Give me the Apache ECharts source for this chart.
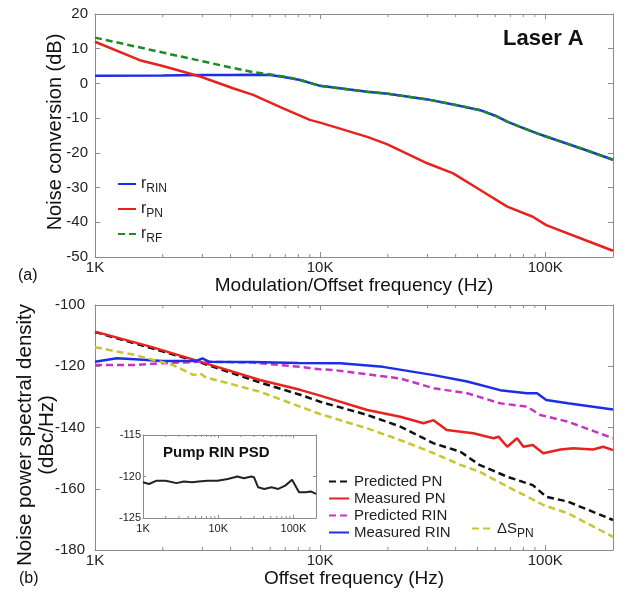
<!DOCTYPE html>
<html>
<head>
<meta charset="utf-8">
<title>Laser A noise</title>
<script src="https://cdn.jsdelivr.net/npm/echarts@6/dist/echarts.min.js"></script>
<style>
  html, body { margin: 0; padding: 0; background: #fff; }
  #chart { width: 628px; height: 593px; }
</style>
</head>
<body>
<div id="chart"></div>
<script>
// panel (a): noise conversion
var rinFreqA = [1000, 2000, 3000, 4000, 5000, 6000, 7000, 8150, 10000, 16200, 20000, 30000, 40000, 51400, 60000, 67800, 77400, 92000, 100000, 150000, 200000];
var rinValA = [2.2, 2.3, 2.4, 2.4, 2.5, 2.4, 1.8, 1.0, -0.7, -2.4, -3.0, -4.6, -6.2, -7.7, -9.3, -11.0, -12.5, -14.4, -15.2, -19.1, -22.0];
var rfFreqA = [1000, 2000, 3000, 4000, 5000, 6000, 7000, 8150, 10000, 16200, 20000, 30000, 40000, 51400, 60000, 67800, 77400, 92000, 100000, 150000, 200000];
var rfValA = [13.2, 8.9, 6.4, 4.6, 3.3, 2.6, 1.9, 1.0, -0.7, -2.4, -3.0, -4.6, -6.2, -7.7, -9.3, -11.0, -12.5, -14.4, -15.2, -19.1, -22.0];
var pnFreqA = [1000, 1580, 2000, 2930, 4100, 5040, 6850, 9000, 10000, 16200, 19800, 29900, 39000, 51400, 67800, 88000, 101000, 150000, 200000];
var pnValA = [12.0, 6.7, 5.0, 2.0, -1.4, -3.3, -7.2, -10.5, -11.3, -15.4, -17.5, -23.0, -25.9, -30.7, -35.5, -38.4, -40.8, -45.1, -48.2];

// panel (b): noise PSD
var predPnFreq = [1000, 1760, 2930, 5400, 8150, 10000, 16200, 22700, 28800, 32000, 42000, 51000, 68000, 83000, 88000, 101000, 126000, 200000];
var predPnVal = [-108.8, -114.0, -118.7, -125.3, -129.3, -131.6, -135.9, -139.7, -143.5, -145.2, -147.9, -152.2, -156.1, -158.2, -158.8, -162.6, -164.2, -170.2];
var measPnFreq = [1000, 1760, 2930, 5400, 8150, 10000, 16200, 22700, 28800, 31900, 36500, 47900, 58900, 62000, 67800, 75000, 80000, 88000, 98000, 117000, 133000, 163000, 181000, 200000];
var measPnVal = [-108.7, -113.6, -118.5, -124.5, -127.7, -129.6, -134.3, -136.5, -138.6, -137.6, -140.8, -141.9, -143.5, -143.0, -146.3, -143.5, -146.3, -145.7, -148.4, -147.2, -146.8, -147.2, -146.3, -147.4];
var predRinFreq = [1000, 1500, 2000, 3000, 5000, 8150, 10000, 11400, 22700, 32000, 45000, 63000, 83000, 95000, 126000, 200000];
var predRinVal = [-119.6, -119.6, -119.0, -118.5, -118.8, -120.2, -121.0, -121.2, -124.0, -127.2, -128.8, -132.1, -133.2, -135.9, -138.1, -143.5];
var measRinFreq = [1000, 1250, 1500, 2000, 2800, 3000, 3200, 5000, 8000, 12300, 19000, 32000, 45000, 63000, 83000, 92000, 101000, 126000, 200000];
var measRinVal = [-118.5, -117.4, -117.7, -118.3, -118.3, -117.4, -118.5, -118.6, -118.9, -119.0, -120.2, -122.9, -125.0, -127.8, -128.8, -128.8, -131.0, -132.1, -134.1];
var dsFreq = [1000, 1500, 2220, 2750, 2930, 3100, 5400, 8150, 10000, 16200, 22700, 32000, 42000, 51000, 68000, 86000, 98000, 126000, 200000];
var dsVal = [-113.8, -116.3, -119.6, -122.9, -122.3, -123.6, -128.3, -133.2, -135.6, -140.3, -144.1, -148.4, -152.2, -154.4, -159.3, -163.1, -165.3, -168.0, -175.7];

// inset: pump RIN PSD
var pumpFreq = [1000, 1200, 1520, 2000, 2800, 3500, 4500, 5500, 7200, 9800, 13400, 16500, 18000, 22000, 27500, 30000, 34000, 41000, 51000, 63000, 78000, 96000, 119000, 145000, 170000, 200000];
var pumpVal = [-120.7, -120.9, -120.5, -120.5, -120.8, -120.6, -120.7, -120.6, -120.5, -120.5, -120.3, -120.1, -120.0, -120.2, -120.0, -120.1, -121.3, -121.5, -121.3, -121.5, -121.1, -120.4, -121.9, -121.9, -121.8, -122.1];

// minor tick positions of the log axes
var minorTicks = [2000, 3000, 4000, 5000, 6000, 7000, 8000, 9000, 20000, 30000, 40000, 50000, 60000, 70000, 80000, 90000];

var FONT = 'Liberation Sans, Arial, sans-serif';
var FRAME = '#8c8c8c';

function pairs(xs, ys) {
    return xs.map(function (x, i) { return [x, ys[i]]; });
}

function kLabel(v) {
    return v >= 1000 ? (v / 1000) + 'K' : String(v);
}

function xAx(grid, pos, showLabel, fs, margin, name) {
    return {
        type: 'log', logBase: 10, gridIndex: grid, position: pos,
        min: 1000, max: 200000,
        name: name || '', nameLocation: 'middle', nameGap: 17,
        nameTextStyle: { fontFamily: FONT, fontSize: 19, color: '#111' },
        axisLine: { show: true, onZero: false, lineStyle: { color: FRAME, width: 1 } },
        axisTick: { show: true, inside: true, length: grid == 2 ? 3 : 5, lineStyle: { color: FRAME } },
        axisLabel: { show: showLabel, formatter: kLabel, showMaxLabel: false, fontFamily: FONT, fontSize: fs, color: '#222', margin: margin },
        splitLine: { show: false }
    };
}

function yAx(grid, pos, min, max, step, showLabel, fs, margin) {
    return {
        type: 'value', gridIndex: grid, position: pos,
        min: min, max: max, interval: step,
        axisLine: { show: true, onZero: false, lineStyle: { color: FRAME, width: 1 } },
        axisTick: { show: true, inside: true, length: grid == 2 ? 3 : 5, lineStyle: { color: FRAME } },
        axisLabel: { show: showLabel, fontFamily: FONT, fontSize: fs, color: '#222', margin: margin },
        splitLine: { show: false }
    };
}

function minorSeries(xi, yi, yMin, yMax, len) {
    return {
        type: 'custom', xAxisIndex: xi, yAxisIndex: yi, silent: true, z: 1,
        data: minorTicks.map(function (f) { return [f, yMin]; }),
        renderItem: function (params, api) {
            var f = api.value(0);
            var b = api.coord([f, yMin]);
            var t = api.coord([f, yMax]);
            var st = { stroke: FRAME, lineWidth: 1 };
            return {
                type: 'group', children: [
                    { type: 'line', shape: { x1: b[0], y1: b[1], x2: b[0], y2: b[1] - len }, style: st },
                    { type: 'line', shape: { x1: t[0], y1: t[1], x2: t[0], y2: t[1] + len }, style: st }
                ]
            };
        }
    };
}

function line(name, xi, yi, xs, ys, color, dashed) {
    return {
        name: name, type: 'line', xAxisIndex: xi, yAxisIndex: yi,
        data: pairs(xs, ys), showSymbol: false, symbol: 'none', smooth: false,
        lineStyle: { color: color, width: 2.5, type: dashed ? [7, 4] : 'solid' },
        itemStyle: { color: color }, z: 3
    };
}

var subRich = {
    m: { fontFamily: FONT, fontSize: 16, color: '#222' },
    s: { fontFamily: FONT, fontSize: 12, color: '#222', padding: [10, 0, 0, 0] }
};

var noDot = { opacity: 0 };

var option = {
    backgroundColor: '#fff',
    animation: false,
    grid: [
        { left: 95, top: 14, width: 518, height: 243 },
        { left: 95, top: 305, width: 518, height: 245 },
        { left: 143, top: 435, width: 173, height: 83, show: true, backgroundColor: '#fff', borderWidth: 0 }
    ],
    xAxis: [
        xAx(0, 'bottom', true, 15, 3, 'Modulation/Offset frequency (Hz)'),
        xAx(0, 'top', false, 15, 3),
        xAx(1, 'bottom', true, 15, 3, 'Offset frequency (Hz)'),
        xAx(1, 'top', false, 15, 3),
        xAx(2, 'bottom', true, 11, 5),
        xAx(2, 'top', false, 11, 5)
    ],
    yAxis: [
        yAx(0, 'left', -50, 20, 10, true, 15, 7),
        yAx(0, 'right', -50, 20, 10, false, 15, 7),
        yAx(1, 'left', -180, -100, 20, true, 15, 10),
        yAx(1, 'right', -180, -100, 20, false, 15, 10),
        yAx(2, 'left', -125, -115, 5, true, 11, 2),
        yAx(2, 'right', -125, -115, 5, false, 11, 2)
    ],
    legend: [
        {
            data: ['r_RIN', 'r_PN', 'r_RF'], orient: 'vertical', left: 112, top: 171,
            itemWidth: 18, itemHeight: 14, itemGap: 6, itemStyle: noDot,
            formatter: function (n) { return '{m|r}{s|' + n.split('_')[1] + '}'; },
            textStyle: { rich: subRich }
        },
        {
            data: ['Predicted PN', 'Measured PN', 'Predicted RIN', 'Measured RIN'], orient: 'vertical', left: 323, top: 469,
            itemWidth: 20, itemHeight: 14, itemGap: 2, itemStyle: noDot,
            textStyle: { fontFamily: FONT, fontSize: 15, color: '#222' }
        },
        {
            data: ['dS_PN'], orient: 'vertical', left: 466, top: 516,
            itemWidth: 20, itemHeight: 14, itemStyle: noDot,
            formatter: function () { return '{m|\u0394S}{s|PN}'; },
            textStyle: { rich: { m: { fontFamily: FONT, fontSize: 15, color: '#222' }, s: { fontFamily: FONT, fontSize: 12, color: '#222', padding: [10, 0, 0, 0] } } }
        }
    ],
    graphic: [
        { type: 'text', left: 503, top: 28, style: { text: 'Laser A', font: 'bold 22px ' + FONT, fill: '#111' } },
        { type: 'text', x: 55, y: 132, rotation: Math.PI / 2, style: { text: 'Noise conversion (dB)', font: '20px ' + FONT, fill: '#111', align: 'center', verticalAlign: 'middle' } },
        { type: 'text', x: 36, y: 435, rotation: Math.PI / 2, style: { text: 'Noise power spectral density\n(dBc/Hz)', font: '20.5px ' + FONT, lineHeight: 22, fill: '#111', align: 'center', verticalAlign: 'middle' } },
        { type: 'text', x: 18, y: 276, style: { text: '(a)', font: '16px ' + FONT, fill: '#111', verticalAlign: 'middle' } },
        { type: 'text', x: 19, y: 579, style: { text: '(b)', font: '16px ' + FONT, fill: '#111', verticalAlign: 'middle' } },
        { type: 'text', x: 163, y: 453, z: 10, style: { text: 'Pump RIN PSD', font: 'bold 15px ' + FONT, fill: '#111', verticalAlign: 'middle' } }
    ],
    series: [
        line('r_RIN', 0, 0, rinFreqA, rinValA, '#1c2fe6', false),
        line('r_PN', 0, 0, pnFreqA, pnValA, '#e8231f', false),
        line('r_RF', 0, 0, rfFreqA, rfValA, '#1d8a22', true),
        line('Predicted PN', 2, 2, predPnFreq, predPnVal, '#111111', true),
        line('Measured PN', 2, 2, measPnFreq, measPnVal, '#e8231f', false),
        line('Predicted RIN', 2, 2, predRinFreq, predRinVal, '#c634c6', true),
        line('Measured RIN', 2, 2, measRinFreq, measRinVal, '#1c2fe6', false),
        line('dS_PN', 2, 2, dsFreq, dsVal, '#c9c530', true),
        line('Pump RIN', 4, 4, pumpFreq, pumpVal, '#222222', false),
        minorSeries(0, 0, -50, 20, 3),
        minorSeries(2, 2, -180, -100, 3),
        minorSeries(4, 4, -125, -115, 2)
    ]
};

option.series[8].lineStyle.width = 2;

var chart = echarts.init(document.getElementById('chart'), null, { renderer: 'canvas' });
chart.setOption(option);
</script>
</body>
</html>
